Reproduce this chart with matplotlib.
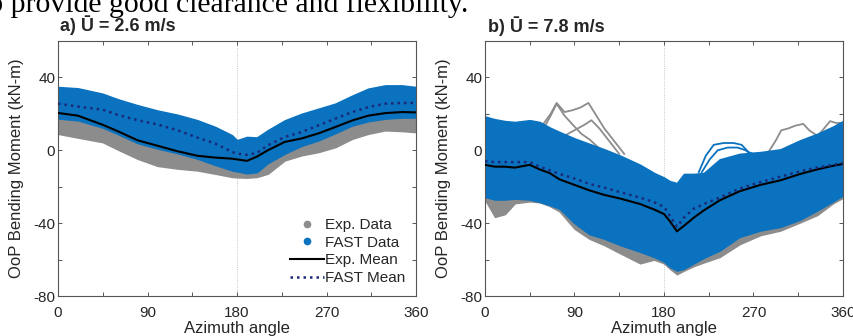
import numpy as np
import matplotlib
matplotlib.use("Agg")
import matplotlib.pyplot as plt
from matplotlib.lines import Line2D
from matplotlib.ticker import MultipleLocator

plt.rcParams["font.family"] = ["Liberation Sans", "DejaVu Sans"]
plt.rcParams["axes.unicode_minus"] = False

EXP_GRAY = "#8c8c8c"
FAST_BLUE = "#0a72be"
MEAN_NAVY = "#1b2a78"
TXT = "#262626"

# ---- panel a: U = 2.6 m/s ----
az_a = [0, 20, 45, 60, 80, 100, 120, 140, 158, 175, 180, 190, 200, 211,
        228, 245, 262, 279, 296, 312, 329, 346, 360]
fast_hi_a = [34.7, 34, 31, 28, 24.7, 21.8, 19.5, 16.5, 12.8, 8.2, 5.5, 7.3, 7, 11,
             16.4, 20, 22.8, 25.6, 30, 33.8, 35.6, 35.6, 34.7]
fast_lo_a = [17.5, 16.5, 12.5, 9, 4, 1, -1.5, -4.5, -8, -11, -11.5, -12.6, -12, -7,
             -1.8, 2.5, 5.5, 9.5, 13.7, 16, 17.4, 18, 18]
exp_hi_a = [24, 23, 18, 15, 10, 7, 4, 1, -1, -2, -2, -2.5, -0.5, 3,
            8, 10.5, 13, 16.5, 20, 23, 24.5, 25, 25]
exp_lo_a = [9.1, 7, 4.5, 0.5, -4.6, -8.5, -10, -11, -12.8, -14.6, -14.8, -15, -14.6, -12.8,
            -5.5, -2.7, -0.9, 1.8, 6.4, 9.1, 11, 10.6, 10]
exp_mean_a = [20.5, 19, 14, 10.5, 5.5, 2.5, -0.5, -3, -4, -4.6, -5, -5.8, -3.5, 0,
              4.6, 6.5, 9.3, 12.8, 16.4, 19, 20.4, 21, 20.8]
fast_mean_a = [25.6, 24, 22.3, 19.5, 16.5, 14.2, 11, 7, 3.7, -0.9, -1.8, -2.5, -1.5, 2.7,
               7.3, 10, 13.7, 17.4, 21, 23.7, 25.6, 26, 26]

# ---- panel b: U = 7.8 m/s ----
az_b = [0, 10, 20, 30, 45, 55, 65, 75, 90, 105, 120, 136, 156, 170, 180, 186,
        193, 200, 210, 220, 236, 256, 277, 297, 317, 334, 350, 360]
fast_hi_b = [18.5, 17, 16, 15.5, 16.5, 15.5, 12.5, 10, 6.5, 3.5, 0.5, -3, -8, -12.5, -15, -17,
             -18, -13, -13, -12.5, -5, -2, -1, 0.5, 5.5, 9, 13, 16]
fast_lo_b = [-25.6, -27, -27, -26.5, -27, -28.3, -30, -32, -40, -46, -48.5, -52, -55.7, -58.5, -61, -64,
             -66, -65, -62, -59, -55, -47.5, -44, -42, -38, -33, -28, -24.7]
exp_hi_b = [14, 13, 12.5, 12, 13, 12, 9, 6, 3, 0, -3, -6, -11, -15, -18, -20,
            -21, -16, -16, -15, -8, -5, -4, -2, 3, 6, 10, 13]
exp_lo_b = [-27, -36.5, -35, -29, -28, -28.5, -30.5, -33.5, -43, -48.5, -52, -56.5, -62, -60, -62, -65,
            -68, -66, -63.5, -61.5, -58.5, -51.5, -46.5, -44, -39.5, -35.5, -29, -26]
exp_mean_b = [-8, -9, -9, -9.5, -8, -10.5, -12.5, -16, -19, -22, -24.5, -26.5, -29.5, -32.5, -35, -39,
              -44.5, -41.5, -37, -33, -27.5, -22.5, -19, -16.5, -13, -10.5, -8.5, -7.5]
fast_mean_b = [-6, -6.5, -6.5, -6.5, -6.5, -9, -11, -13, -15.5, -18.5, -20.5, -23, -26, -28.5, -31, -36,
               -42, -37, -32, -29.5, -26, -21, -17.5, -14.5, -11.5, -9.5, -8, -7]

# single runs that stick out of the bands in panel b
exp_runs_b = [
    ([58, 66, 72, 80, 88, 96, 104, 112, 120, 130, 140], [14, 20, 26, 21, 22, 23.5, 26, 19, 12, 5, -2]),
    ([60, 66, 72, 80, 90, 97, 105, 115, 125], [13, 19, 25.5, 19, 13, 9, 6, 1, -3]),
    ([80, 90, 100, 107, 115, 125, 135], [8, 11, 14, 16.5, 12, 5, -2]),
    ([285, 292, 298, 305, 312, 320, 326, 334, 342], [-1, 5, 11, 12, 13.5, 14.5, 11, 8, 10]),
    ([330, 338, 347, 353, 360], [5, 10, 16, 15, 15]),
]
fast_runs_b = [
    ([215, 222, 230, 240, 250, 258, 265, 275], [-12, -3, 3, 4, 4, 3, -1, -3]),
    ([218, 226, 234, 244, 254, 262, 270], [-12, -5, 0, 1.5, 1.5, 0, -3]),
]


def style_axes(ax):
    ax.set_xlim(0, 360)
    ax.set_ylim(-80, 60)
    ax.xaxis.set_major_locator(MultipleLocator(90))
    ax.xaxis.set_minor_locator(MultipleLocator(45))
    ax.set_yticks([-80, -40, 0, 40])
    ax.yaxis.set_minor_locator(MultipleLocator(20))
    ax.tick_params(which="both", direction="in", top=True, right=True, length=3,
                   width=0.7, color="#555555", labelsize=11, labelcolor=TXT)
    ax.tick_params(axis="x", pad=7)
    ax.tick_params(axis="y", pad=2)
    for s in ax.spines.values():
        s.set_color("#555555")
        s.set_linewidth(0.8)
    ax.axvline(180, color="#b5b5b5", lw=0.6, ls=":", zorder=0.5)
    ax.set_xlabel("Azimuth angle", fontsize=12, color=TXT, labelpad=1)
    ax.set_ylabel("OoP Bending Moment (kN-m)", fontsize=12, color=TXT)


def draw_panel(ax, az, exp_lo, exp_hi, fast_lo, fast_hi, exp_mean, fast_mean,
               exp_runs=(), fast_runs=()):
    ax.fill_between(az, exp_lo, exp_hi, color=EXP_GRAY, lw=1.2, ec=EXP_GRAY, zorder=1)
    for x, y in exp_runs:
        ax.plot(x, y, color=EXP_GRAY, lw=1.3, zorder=1)
    ax.fill_between(az, fast_lo, fast_hi, color=FAST_BLUE, lw=1.2, ec=FAST_BLUE, zorder=2)
    for x, y in fast_runs:
        ax.plot(x, y, color=FAST_BLUE, lw=1.3, zorder=2)
    ax.plot(az, exp_mean, color="black", lw=1.5, zorder=3)
    ax.plot(az, fast_mean, color=MEAN_NAVY, lw=1.8, ls=(0, (1, 1.6)), zorder=3)
    style_axes(ax)


fig = plt.figure(figsize=(8.54, 3.36), dpi=100)
ax_a = fig.add_axes([58 / 854, 40 / 336, 358 / 854, 255 / 336])
ax_b = fig.add_axes([485 / 854, 40 / 336, 358 / 854, 255 / 336])

draw_panel(ax_a, az_a, exp_lo_a, exp_hi_a, fast_lo_a, fast_hi_a, exp_mean_a, fast_mean_a)
draw_panel(ax_b, az_b, exp_lo_b, exp_hi_b, fast_lo_b, fast_hi_b, exp_mean_b, fast_mean_b,
           exp_runs_b, fast_runs_b)

ax_a.yaxis.set_label_coords(-0.095, 0.5)
ax_b.yaxis.set_label_coords(-0.095, 0.5)

handles = [
    Line2D([], [], ls="", marker="o", ms=4.5, color=EXP_GRAY),
    Line2D([], [], ls="", marker="o", ms=4.5, color=FAST_BLUE),
    Line2D([], [], color="black", lw=1.5),
    Line2D([], [], color=MEAN_NAVY, lw=1.8, ls=(0, (1, 1.6))),
]
labels = ["Exp. Data", "FAST Data", "Exp. Mean", "FAST Mean"]
ax_a.legend(handles, labels, loc="lower right", bbox_to_anchor=(1.0, 0.0), frameon=False,
            fontsize=11, handlelength=2.2, handletextpad=0.1, labelspacing=0.25,
            borderaxespad=0.3, labelcolor=TXT)

fig.text(60 / 854, 1 - 25 / 336, "a) \u016a = 2.6 m/s", fontsize=13, fontweight="bold",
         color=TXT, va="center", ha="left")
fig.text(488 / 854, 1 - 26 / 336, "b) \u016a = 7.8 m/s", fontsize=13, fontweight="bold",
         color=TXT, va="center", ha="left")

# cut-off line of body text above the figure (cropped like in the source page)
fig.text(468 / 854, 1 - 12 / 336, "to provide good clearance and flexibility.",
         family="Liberation Serif", fontsize=21.4, color="black", ha="right", va="baseline")

fig.savefig("out.png", dpi=100)
